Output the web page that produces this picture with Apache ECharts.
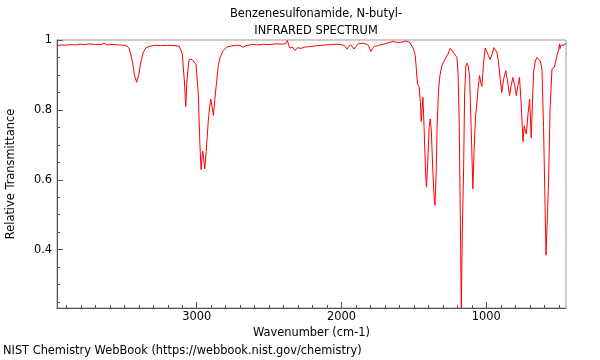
<!DOCTYPE html>
<html>
<head>
<meta charset="utf-8">
<script src="https://cdn.jsdelivr.net/npm/echarts@6/dist/echarts.min.js"></script>
<style>
  html, body { margin: 0; padding: 0; background: #fff; }
  #main { width: 600px; height: 360px; }
</style>
</head>
<body>
<div id="main"></div>
<script>
// 光谱数据
var wavenumbers = [
  3963, 3930, 3900, 3870, 3840, 3800, 3770, 3740, 3700, 3660, 3641, 3620, 3580, 3540, 3500, 3480,
  3466, 3445, 3430, 3415, 3400, 3385, 3369, 3350, 3323, 3290, 3250, 3200, 3150, 3120, 3100, 3085,
  3076, 3068, 3055, 3046, 3030, 3019, 3005, 2990, 2978, 2970, 2964, 2959, 2952, 2945, 2935, 2920,
  2910, 2903, 2895, 2885, 2875, 2862, 2850, 2839, 2820, 2793, 2760, 2724, 2700, 2678, 2660, 2620,
  2580, 2540, 2500, 2450, 2410, 2385, 2374, 2365, 2355, 2340, 2321, 2305, 2280, 2250, 2217, 2170,
  2130, 2102, 2060, 2033, 2000, 1982, 1963, 1950, 1936, 1925, 1913, 1900, 1883, 1849, 1830, 1815,
  1805, 1798, 1788, 1775, 1750, 1733, 1710, 1687, 1660, 1641, 1620, 1595, 1575, 1560, 1540, 1526,
  1514, 1503, 1491, 1484, 1476, 1464, 1455, 1450, 1444, 1438, 1430, 1420, 1413, 1405, 1395, 1388,
  1380, 1370, 1360, 1355, 1348, 1340, 1330, 1320, 1307, 1284, 1265, 1250, 1240, 1228, 1220, 1203,
  1195, 1188, 1180, 1173, 1166, 1157, 1150, 1141, 1132, 1125, 1116, 1105, 1093, 1085, 1075, 1065,
  1055, 1047, 1039, 1031, 1020, 1008, 995, 985, 974, 960, 948, 939, 928, 917, 905, 894,
  880, 866, 853, 840, 828, 817, 805, 793, 782, 771, 760, 747, 738, 731, 724, 712,
  701, 690, 682, 674, 662, 650, 639, 628, 616, 605, 588, 578, 570, 560, 547, 540,
  531, 520, 512, 500, 494, 492, 485, 477, 465, 450
];
var transmittance = [
  0.984, 0.986, 0.985, 0.987, 0.986, 0.988, 0.987, 0.989, 0.987, 0.987, 0.991, 0.986, 0.987, 0.986, 0.985, 0.982,
  0.975, 0.94, 0.9, 0.879, 0.9, 0.94, 0.965, 0.978, 0.982, 0.985, 0.984, 0.985, 0.984, 0.982, 0.96, 0.88,
  0.809, 0.88, 0.94, 0.946, 0.943, 0.944, 0.93, 0.85, 0.7, 0.629, 0.66, 0.682, 0.66, 0.631, 0.68, 0.77,
  0.81, 0.831, 0.81, 0.784, 0.83, 0.884, 0.93, 0.95, 0.968, 0.98, 0.983, 0.985, 0.984, 0.979, 0.984, 0.987,
  0.986, 0.988, 0.987, 0.989, 0.988, 0.99, 0.999, 0.985, 0.977, 0.98, 0.97, 0.978, 0.976, 0.98, 0.981, 0.984,
  0.985, 0.986, 0.987, 0.988, 0.986, 0.985, 0.974, 0.982, 0.986, 0.982, 0.974, 0.982, 0.989, 0.991, 0.988, 0.985,
  0.975, 0.967, 0.975, 0.981, 0.984, 0.986, 0.988, 0.991, 0.994, 0.996, 0.993, 0.993, 0.995, 0.997, 0.995, 0.992,
  0.988, 0.974, 0.955, 0.92, 0.875, 0.865, 0.82, 0.767, 0.8, 0.836, 0.75, 0.62, 0.579, 0.65, 0.75, 0.774,
  0.74, 0.63, 0.545, 0.527, 0.6, 0.75, 0.86, 0.9, 0.927, 0.946, 0.96, 0.976, 0.975, 0.965, 0.96, 0.95,
  0.9, 0.774, 0.5, 0.23, 0.45, 0.631, 0.85, 0.927, 0.934, 0.925, 0.898, 0.75, 0.574, 0.68, 0.78, 0.822,
  0.87, 0.898, 0.88, 0.867, 0.93, 0.977, 0.975, 0.955, 0.944, 0.96, 0.978, 0.979, 0.965, 0.941, 0.89, 0.85,
  0.89, 0.912, 0.88, 0.841, 0.87, 0.893, 0.87, 0.841, 0.87, 0.893, 0.82, 0.709, 0.755, 0.74, 0.731, 0.79,
  0.831, 0.719, 0.82, 0.907, 0.94, 0.95, 0.952, 0.94, 0.917, 0.75, 0.384, 0.5, 0.603, 0.8, 0.917, 0.92,
  0.922, 0.94, 0.955, 0.975, 0.989, 0.975, 0.985, 0.988, 0.986, 0.99
];

// 坐标轴刻度
var xMajorTicks = [1000, 2000, 3000];
var xMinorTicks = [500, 600, 700, 800, 900, 1100, 1200, 1300, 1400, 1500, 1600, 1700, 1800, 1900,
  2100, 2200, 2300, 2400, 2500, 2600, 2700, 2800, 2900, 3100, 3200, 3300, 3400, 3500, 3600, 3700, 3800, 3900];
var yMajorTicks = [0.4, 0.6, 0.8, 1];
var yMinorTicks = [0.25, 0.3, 0.35, 0.45, 0.5, 0.55, 0.65, 0.7, 0.75, 0.85, 0.9, 0.95];

var titleText = 'Benzenesulfonamide, N-butyl-\nINFRARED SPECTRUM';
var xName = 'Wavenumber (cm-1)';
var yName = 'Relative Transmittance';
var footer = 'NIST Chemistry WebBook (https://webbook.nist.gov/chemistry)';

var xMin = 450, xMax = 3965;
var yMin = 0.233, yMax = 1;

var FONT = 'DejaVu Sans';
var FS = 11.4;

function zipData(xs, ys) {
    let data = [];
    for (let i = 0; i < xs.length; i++) {
        data.push([xs[i], ys[i]]);
    }
    return data;
}

let chart = echarts.init(document.getElementById('main'));
let option = {
    animation: false,
    backgroundColor: '#fff',
    textStyle: { fontFamily: FONT },
    title: {
        text: titleText,
        left: 311,
        top: 1,
        textAlign: 'center',
        textStyle: { fontFamily: FONT, fontSize: FS, fontWeight: 'normal', color: '#000', lineHeight: 17 }
    },
    graphic: [{
        type: 'text',
        left: 3,
        top: 346,
        style: { text: footer, font: FS + 'px "DejaVu Sans"', fill: '#000' }
    }],
    grid: {
        left: 57, right: 34, top: 40, bottom: 52,
        containLabel: false,
        outerBoundsMode: 'none',
        show: true,
        borderColor: '#999',
        borderWidth: 1
    },
    xAxis: [{
        type: 'value',
        inverse: true,
        min: xMin, max: xMax,
        name: xName,
        nameLocation: 'middle',
        nameGap: 18,
        nameTextStyle: { fontFamily: FONT, fontSize: FS, color: '#000' },
        axisLine: { show: true, lineStyle: { color: '#555', width: 1 } },
        axisTick: { show: true, inside: true, length: 6, customValues: xMajorTicks, lineStyle: { color: '#555' } },
        axisLabel: {
            customValues: xMajorTicks, margin: 4, fontFamily: FONT, fontSize: FS, color: '#000',
            formatter: function (v) { return String(v); }
        },
        splitLine: { show: false }
    }, {
        type: 'value',
        inverse: true,
        min: xMin, max: xMax,
        position: 'bottom',
        axisLine: { show: false },
        axisTick: { show: true, inside: true, length: 3, customValues: xMinorTicks, lineStyle: { color: '#555' } },
        axisLabel: { show: false },
        splitLine: { show: false }
    }],
    yAxis: [{
        type: 'value',
        min: yMin, max: yMax,
        name: yName,
        nameLocation: 'middle',
        nameRotate: 90,
        nameGap: 40,
        nameTextStyle: { fontFamily: FONT, fontSize: FS, color: '#000' },
        axisLine: { show: true, lineStyle: { color: '#555', width: 1 } },
        axisTick: { show: true, inside: true, length: 6, customValues: yMajorTicks, lineStyle: { color: '#555' } },
        axisLabel: {
            customValues: yMajorTicks, margin: 5, fontFamily: FONT, fontSize: FS, color: '#000',
            formatter: function (v) { return String(v); }
        },
        splitLine: { show: false }
    }, {
        type: 'value',
        min: yMin, max: yMax,
        position: 'left',
        axisLine: { show: false },
        axisTick: { show: true, inside: true, length: 3, customValues: yMinorTicks, lineStyle: { color: '#555' } },
        axisLabel: { show: false },
        splitLine: { show: false }
    }],
    series: [{
        type: 'line',
        xAxisIndex: 0,
        yAxisIndex: 0,
        data: zipData(wavenumbers, transmittance),
        showSymbol: false,
        clip: true,
        lineStyle: { color: '#ff0000', width: 1 }
    }]
};
chart.setOption(option);
</script>
</body>
</html>
